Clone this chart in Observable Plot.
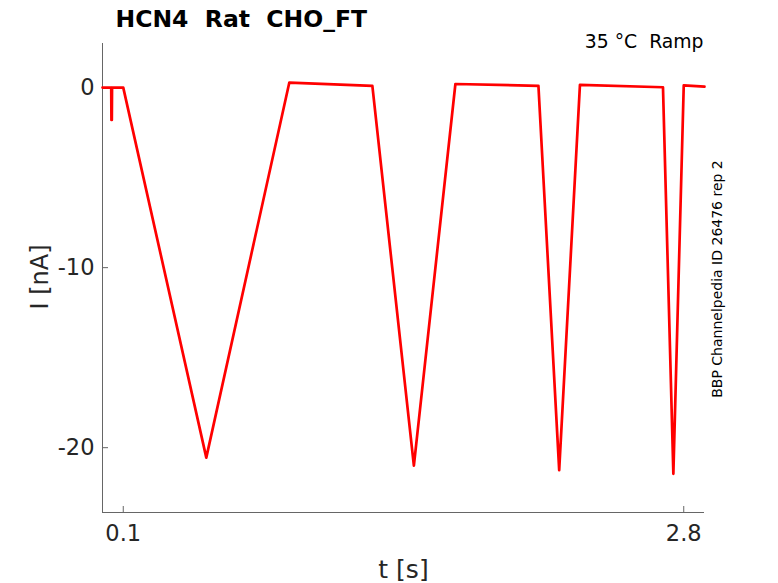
<!DOCTYPE html>
<html><head><meta charset="utf-8">
<script src="https://cdn.jsdelivr.net/npm/d3@7"></script>
<script src="https://cdn.jsdelivr.net/npm/@observablehq/plot@0.6"></script>
<style>
body{margin:0;background:#fff}
svg{font-family:"DejaVu Sans"}
svg text{white-space:pre}
</style>
</head><body><div id="chart"></div>
<script>
// Data
const time    = [0, 0.042, 0.043, 0.045, 0.046, 0.1, 0.5,   0.9,  1.3, 1.5,   1.7, 2.1, 2.2,   2.3,  2.7,  2.75,  2.8,  2.9];
const current = [0, 0,    -1.8,  -1.8,   0,     0,  -20.55, 0.28, 0.1, -21.0, 0.2, 0.1, -21.25, 0.15, 0.02, -21.45, 0.12, 0.05];
const xTicks = [0.1, 2.8];
const yTicks = [0, -10, -20];
const xDomain = [0, 2.9];
const yDomain = [-23.6, 2.45];
const titleText = "HCN4  Rat  CHO_FT";
const subtitleText = "35 °C  Ramp";
const sideNote = "BBP Channelpedia ID 26476 rep 2";
const xLabel = "t [s]";
const yLabel = "I [nA]";

const data = time.map((t, k) => ({t, I: current[k]}));

const chart = Plot.plot({
  width: 778, height: 583,
  marginLeft: 102, marginRight: 74, marginTop: 43, marginBottom: 71,
  style: {fontFamily: "DejaVu Sans", background: "#fff", overflow: "visible"},
  x: {domain: xDomain},
  y: {domain: yDomain},
  marks: [
    Plot.ruleX([xDomain[0]], {stroke: "#666"}),
    Plot.ruleY([yDomain[0]], {stroke: "#666"}),
    Plot.axisX({ticks: xTicks, tickSize: -6, tickPadding: 19, fontSize: 22.5, label: null,
      stroke: "#666", fill: "#262626", tickFormat: d => String(d)}),
    Plot.axisY({ticks: yTicks, tickSize: -6, tickPadding: 14, fontSize: 22.5, label: null,
      stroke: "#666", fill: "#262626", tickFormat: d => String(d)}),
    Plot.line(data, {x: "t", y: "I", stroke: "#ff0000", strokeWidth: 2.7}),
    Plot.text([titleText], {text: d => d, frameAnchor: "top-left", textAnchor: "start", lineAnchor: "bottom",
      dx: 13, dy: -17, fontSize: 23.5, fontWeight: "bold", fill: "#000"}),
    Plot.text([subtitleText], {text: d => d, frameAnchor: "top-right", textAnchor: "end", lineAnchor: "bottom",
      dx: -1, dy: 4, fontSize: 18.8, fill: "#000"}),
    Plot.text([sideNote], {text: d => d, frameAnchor: "right", textAnchor: "middle", lineAnchor: "bottom",
      rotate: -90, dx: 17, dy: 1, fontSize: 14, fill: "#000"}),
    Plot.text([yLabel], {text: d => d, frameAnchor: "left", textAnchor: "middle", lineAnchor: "bottom",
      rotate: -90, dx: -55, dy: -1, fontSize: 24, fill: "#262626"}),
    Plot.text([xLabel], {text: d => d, frameAnchor: "bottom", textAnchor: "middle", lineAnchor: "bottom",
      dy: 65, fontSize: 25, fill: "#262626"})
  ]
});
document.getElementById("chart").appendChild(chart);
</script>
</body></html>
